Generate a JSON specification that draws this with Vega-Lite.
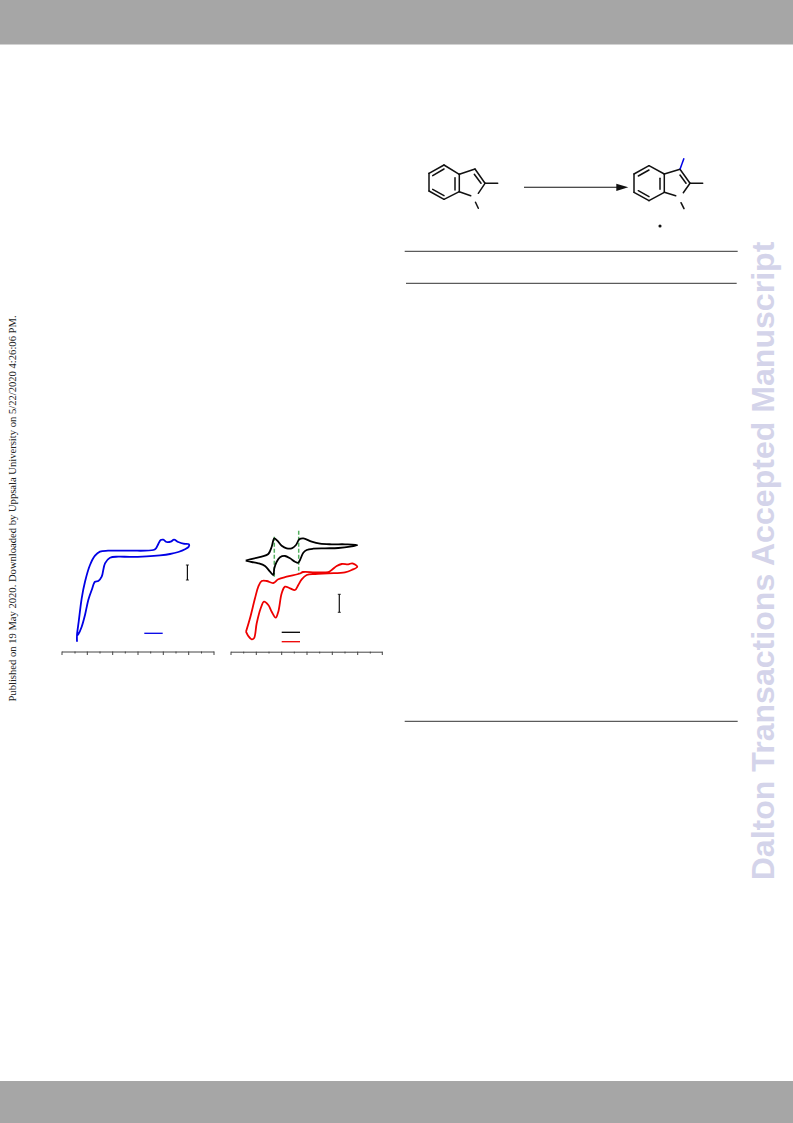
{"$schema":"https://vega.github.io/schema/vega-lite/v6.json","autosize":{"type":"fit","contains":"padding"},"width":793,"height":1123,"padding":0,"background":"white","config":{"view":{"stroke":null}},
"datasets":{
"bands":[{"name":"top","x":0,"x2":793,"y":0,"y2":44.5},{"name":"bottom","x":0,"x2":793,"y":1081,"y2":1123}],
"rules":[{"name":"t1","x":404.7,"x2":737.7,"y":251.3},{"name":"t2","x":406,"x2":736.7,"y":283.3},{"name":"t3","x":404.7,"x2":737.7,"y":721.3}],
"curves":[
{"s":"blue","o":1,"x":77,"y":641.7},{"s":"blue","o":2,"x":77,"y":635},{"s":"blue","o":3,"x":78.7,"y":621.7},{"s":"blue","o":4,"x":81.7,"y":598.3},{"s":"blue","o":5,"x":85,"y":581.7},{"s":"blue","o":6,"x":90,"y":565},{"s":"blue","o":7,"x":95,"y":555.7},{"s":"blue","o":8,"x":100,"y":551.7},{"s":"blue","o":9,"x":108,"y":550.7},{"s":"blue","o":10,"x":130,"y":550.7},{"s":"blue","o":11,"x":153.3,"y":550},{"s":"blue","o":12,"x":156,"y":548.3},{"s":"blue","o":13,"x":158.3,"y":544},{"s":"blue","o":14,"x":160.7,"y":540},{"s":"blue","o":15,"x":163.3,"y":539.7},{"s":"blue","o":16,"x":166.7,"y":542},{"s":"blue","o":17,"x":170.7,"y":541.7},{"s":"blue","o":18,"x":174,"y":539.7},{"s":"blue","o":19,"x":178.3,"y":542},{"s":"blue","o":20,"x":183.3,"y":543.7},{"s":"blue","o":21,"x":189,"y":544.3},{"s":"blue","o":22,"x":188.7,"y":546.7},{"s":"blue","o":23,"x":185,"y":549.3},{"s":"blue","o":24,"x":178.3,"y":552},{"s":"blue","o":25,"x":170,"y":554},{"s":"blue","o":26,"x":160,"y":555.3},{"s":"blue","o":27,"x":146.7,"y":556.3},{"s":"blue","o":28,"x":130,"y":556.9},{"s":"blue","o":29,"x":118.3,"y":556.7},{"s":"blue","o":30,"x":110,"y":557.7},{"s":"blue","o":31,"x":105,"y":563.3},{"s":"blue","o":32,"x":101.7,"y":576.7},{"s":"blue","o":33,"x":98.3,"y":581},{"s":"blue","o":34,"x":95,"y":581.7},{"s":"blue","o":35,"x":91.7,"y":590},{"s":"blue","o":36,"x":88.3,"y":600},{"s":"blue","o":37,"x":85,"y":615},{"s":"blue","o":38,"x":81.7,"y":626.7},{"s":"blue","o":39,"x":78.3,"y":634.3},{"s":"blue","o":40,"x":77,"y":635.7},
{"s":"black","o":1,"x":245.7,"y":560.7},{"s":"black","o":2,"x":253.3,"y":558.7},{"s":"black","o":3,"x":261.7,"y":556.7},{"s":"black","o":4,"x":268.3,"y":554},{"s":"black","o":5,"x":271.7,"y":546.7},{"s":"black","o":6,"x":274.3,"y":538.3},{"s":"black","o":7,"x":277.3,"y":540.7},{"s":"black","o":8,"x":281.7,"y":545.7},{"s":"black","o":9,"x":286.7,"y":548.3},{"s":"black","o":10,"x":291.7,"y":548.3},{"s":"black","o":11,"x":296,"y":545},{"s":"black","o":12,"x":299.3,"y":539.3},{"s":"black","o":13,"x":303.3,"y":538.3},{"s":"black","o":14,"x":311.7,"y":541.7},{"s":"black","o":15,"x":320,"y":543.7},{"s":"black","o":16,"x":331.7,"y":544.3},{"s":"black","o":17,"x":345,"y":544.3},{"s":"black","o":18,"x":357.3,"y":545},{"s":"black","o":19,"x":350,"y":546.7},{"s":"black","o":20,"x":338.3,"y":548},{"s":"black","o":21,"x":325,"y":548.3},{"s":"black","o":22,"x":313.3,"y":548.7},{"s":"black","o":23,"x":306.7,"y":550},{"s":"black","o":24,"x":303.3,"y":552.7},{"s":"black","o":25,"x":300,"y":560},{"s":"black","o":26,"x":298.3,"y":562.7},{"s":"black","o":27,"x":295,"y":561.7},{"s":"black","o":28,"x":290,"y":558.3},{"s":"black","o":29,"x":285,"y":556},{"s":"black","o":30,"x":280,"y":557.3},{"s":"black","o":31,"x":276.7,"y":561.7},{"s":"black","o":32,"x":274.3,"y":568.3},{"s":"black","o":33,"x":273.3,"y":575},{"s":"black","o":34,"x":270,"y":571.7},{"s":"black","o":35,"x":265,"y":566},{"s":"black","o":36,"x":258.3,"y":563.3},{"s":"black","o":37,"x":251.7,"y":562},{"s":"black","o":38,"x":245.7,"y":560.7},
{"s":"red","o":1,"x":246,"y":631.7},{"s":"red","o":2,"x":250,"y":618.3},{"s":"red","o":3,"x":255,"y":598.3},{"s":"red","o":4,"x":258.3,"y":586.7},{"s":"red","o":5,"x":261.7,"y":581},{"s":"red","o":6,"x":266.7,"y":581},{"s":"red","o":7,"x":273.3,"y":583},{"s":"red","o":8,"x":278.3,"y":579.3},{"s":"red","o":9,"x":286.7,"y":576.7},{"s":"red","o":10,"x":300,"y":573.5},{"s":"red","o":11,"x":303,"y":572},{"s":"red","o":12,"x":315,"y":572.3},{"s":"red","o":13,"x":328.3,"y":572},{"s":"red","o":14,"x":331.7,"y":570},{"s":"red","o":15,"x":336.7,"y":566},{"s":"red","o":16,"x":341.7,"y":564},{"s":"red","o":17,"x":348.3,"y":564.3},{"s":"red","o":18,"x":352.3,"y":563.3},{"s":"red","o":19,"x":357.3,"y":566.7},{"s":"red","o":20,"x":351.7,"y":570},{"s":"red","o":21,"x":345,"y":572.3},{"s":"red","o":22,"x":328.3,"y":573.3},{"s":"red","o":23,"x":315,"y":574},{"s":"red","o":24,"x":306.7,"y":575},{"s":"red","o":25,"x":301.7,"y":579.3},{"s":"red","o":26,"x":298.3,"y":585},{"s":"red","o":27,"x":295,"y":590},{"s":"red","o":28,"x":290,"y":588.3},{"s":"red","o":29,"x":285,"y":586.7},{"s":"red","o":30,"x":281.7,"y":593.3},{"s":"red","o":31,"x":278.3,"y":611.7},{"s":"red","o":32,"x":275.7,"y":617.7},{"s":"red","o":33,"x":271.7,"y":611.7},{"s":"red","o":34,"x":268.3,"y":605},{"s":"red","o":35,"x":264,"y":601.7},{"s":"red","o":36,"x":260.7,"y":608.3},{"s":"red","o":37,"x":256.7,"y":623.3},{"s":"red","o":38,"x":254,"y":638.3},{"s":"red","o":39,"x":251.7,"y":639.3},{"s":"red","o":40,"x":248.3,"y":636},{"s":"red","o":41,"x":246,"y":631.7}
],
"legendLines":[{"s":"blue","x":144.3,"x2":162.7,"y":633.3},{"s":"black","x":281.7,"x2":300,"y":632.3},{"s":"red","x":281.7,"x2":300,"y":641.7}],
"scaleBars":[{"x":187.4,"y":565,"y2":580},{"x":339.3,"y":594.3,"y2":612.3}],
"scaleCaps":[{"x":185.9,"x2":188.9,"y":565},{"x":185.9,"x2":188.9,"y":580},{"x":337.8,"x2":340.8,"y":594.3},{"x":337.8,"x2":340.8,"y":612.3}],
"axisLines":[{"x":62,"x2":214.2,"y":652},{"x":231,"x2":382.5,"y":652.2}],
"axisTicks":[{"x":62,"y":651.5,"y2":655},{"x":75,"y":651.5,"y2":653.5},{"x":87.3,"y":651.5,"y2":655},{"x":100,"y":651.5,"y2":653.5},{"x":112.7,"y":651.5,"y2":655},{"x":125.3,"y":651.5,"y2":653.5},{"x":138,"y":651.5,"y2":655},{"x":150.7,"y":651.5,"y2":653.5},{"x":163.3,"y":651.5,"y2":655},{"x":176,"y":651.5,"y2":653.5},{"x":188.7,"y":651.5,"y2":655},{"x":201.5,"y":651.5,"y2":653.5},{"x":214,"y":651.5,"y2":655},
{"x":231,"y":651.7,"y2":655},{"x":243.7,"y":651.7,"y2":653.5},{"x":256.3,"y":651.7,"y2":655},{"x":269,"y":651.7,"y2":653.5},{"x":281.7,"y":651.7,"y2":655},{"x":294.3,"y":651.7,"y2":653.5},{"x":307,"y":651.7,"y2":655},{"x":319.7,"y":651.7,"y2":653.5},{"x":332.3,"y":651.7,"y2":655},{"x":345,"y":651.7,"y2":653.5},{"x":357.7,"y":651.7,"y2":655},{"x":370.3,"y":651.7,"y2":653.5},{"x":382.3,"y":651.7,"y2":655}],
"guides":[{"x":274.3,"y":536.7,"y2":577.5},{"x":298.7,"y":530.7,"y2":574.3}],
"bonds":[
{"x":444,"y":165,"x2":459.3,"y2":174.3},{"x":459.3,"y":174.3,"x2":459.3,"y2":191.7},{"x":459.3,"y":191.7,"x2":444,"y2":199.3},{"x":444,"y":199.3,"x2":429,"y2":191},{"x":429,"y":191,"x2":429,"y2":173.3},{"x":429,"y":173.3,"x2":444,"y2":165},
{"x":455,"y":177.7,"x2":455,"y2":190},{"x":432.7,"y":175.7,"x2":444,"y2":169},{"x":432.7,"y":189.3,"x2":444,"y2":195.7},
{"x":459.3,"y":174.3,"x2":475,"y2":169},{"x":475,"y":169,"x2":485,"y2":183.3},{"x":485,"y":183.3,"x2":478.3,"y2":193.3},{"x":474.3,"y":174.3,"x2":481,"y2":183.3},{"x":459.3,"y":191.7,"x2":470.7,"y2":195.7},{"x":485,"y":183.3,"x2":497.7,"y2":183.3},{"x":475.5,"y":202.3,"x2":478.3,"y2":208.3},
{"x":649,"y":165.7,"x2":664.3,"y2":174},{"x":664.3,"y":174,"x2":664.3,"y2":192.3},{"x":664.3,"y":192.3,"x2":649,"y2":200.7},{"x":649,"y":200.7,"x2":634,"y2":192.3},{"x":634,"y":192.3,"x2":634,"y2":174},{"x":634,"y":174,"x2":649,"y2":165.7},
{"x":660,"y":178.3,"x2":660,"y2":189.3},{"x":638.3,"y":176,"x2":649,"y2":170},{"x":638.3,"y":190.7,"x2":649,"y2":196.7},
{"x":664.3,"y":174,"x2":680,"y2":169.3},{"x":680,"y":169.3,"x2":690,"y2":183.3},{"x":690,"y":183.3,"x2":683.3,"y2":192.7},{"x":680,"y":175,"x2":686,"y2":183.3},{"x":664.3,"y":192.3,"x2":675.7,"y2":195.7},{"x":690,"y":183.3,"x2":702.7,"y2":183.3},{"x":681,"y":202.7,"x2":684,"y2":208.7}],
"arrowLine":[{"x":524,"x2":617,"y":187.3}],
"arrowHead":[{"x":622.3,"y":187.3}],
"blueBond":[{"x":680,"y":169.3,"x2":684,"y2":158.3}],
"dot":[{"x":660,"y":226}],
"watermark":[{"label":"Dalton Transactions Accepted Manuscript","x":764,"y":561}],
"sideNote":[{"label":"Published on 19 May 2020. Downloaded by Uppsala University on 5/22/2020 4:26:06 PM.","x":13,"y":508.5}]
},
"layer":[
{"data":{"name":"bands"},"mark":{"type":"rect","color":"#a6a6a6"},"encoding":{"x":{"field":"x","type":"quantitative","scale":{"domain":[0,793],"nice":false,"zero":false},"axis":null},"x2":{"field":"x2"},"y":{"field":"y","type":"quantitative","scale":{"domain":[1123,0],"nice":false,"zero":false},"axis":null},"y2":{"field":"y2"}}},
{"data":{"name":"watermark"},"mark":{"type":"text","angle":270,"font":"Liberation Sans","fontWeight":"bold","fontSize":32.1,"color":"#d4d4ea","align":"center","baseline":"middle"},"encoding":{"x":{"field":"x","type":"quantitative","axis":null},"y":{"field":"y","type":"quantitative","axis":null},"text":{"field":"label"}}},
{"data":{"name":"sideNote"},"mark":{"type":"text","angle":270,"font":"Liberation Serif","fontSize":10.6,"color":"#222222","align":"center","baseline":"middle"},"encoding":{"x":{"field":"x","type":"quantitative","axis":null},"y":{"field":"y","type":"quantitative","axis":null},"text":{"field":"label"}}},
{"data":{"name":"rules"},"mark":{"type":"rule","color":"#333333","strokeWidth":1},"encoding":{"x":{"field":"x","type":"quantitative"},"x2":{"field":"x2"},"y":{"field":"y","type":"quantitative"}}},
{"data":{"name":"axisLines"},"mark":{"type":"rule","color":"#444444","strokeWidth":1},"encoding":{"x":{"field":"x","type":"quantitative"},"x2":{"field":"x2"},"y":{"field":"y","type":"quantitative"}}},
{"data":{"name":"axisTicks"},"mark":{"type":"rule","color":"#444444","strokeWidth":1},"encoding":{"x":{"field":"x","type":"quantitative"},"y":{"field":"y","type":"quantitative"},"y2":{"field":"y2"}}},
{"data":{"name":"guides"},"mark":{"type":"rule","color":"#55b060","strokeWidth":1.5,"strokeDash":[4,2]},"encoding":{"x":{"field":"x","type":"quantitative"},"y":{"field":"y","type":"quantitative"},"y2":{"field":"y2"}}},
{"data":{"name":"curves"},"mark":{"type":"line","strokeWidth":1.8,"interpolate":"catmull-rom","strokeJoin":"round"},"encoding":{"x":{"field":"x","type":"quantitative"},"y":{"field":"y","type":"quantitative"},"order":{"field":"o","type":"quantitative"},"color":{"field":"s","type":"nominal","legend":null,"scale":{"domain":["blue","black","red"],"range":["#0000e6","#000000","#ee0000"]}}}},
{"data":{"name":"legendLines"},"mark":{"type":"rule","strokeWidth":1.3},"encoding":{"x":{"field":"x","type":"quantitative"},"x2":{"field":"x2"},"y":{"field":"y","type":"quantitative"},"color":{"field":"s","type":"nominal","legend":null}}},
{"data":{"name":"scaleBars"},"mark":{"type":"rule","color":"#111111","strokeWidth":1.2},"encoding":{"x":{"field":"x","type":"quantitative"},"y":{"field":"y","type":"quantitative"},"y2":{"field":"y2"}}},
{"data":{"name":"scaleCaps"},"mark":{"type":"rule","color":"#111111","strokeWidth":0.9},"encoding":{"x":{"field":"x","type":"quantitative"},"x2":{"field":"x2"},"y":{"field":"y","type":"quantitative"}}},
{"data":{"name":"bonds"},"mark":{"type":"rule","color":"#111111","strokeWidth":1.5,"strokeCap":"round"},"encoding":{"x":{"field":"x","type":"quantitative"},"x2":{"field":"x2"},"y":{"field":"y","type":"quantitative"},"y2":{"field":"y2"}}},
{"data":{"name":"blueBond"},"mark":{"type":"rule","color":"#0000e6","strokeWidth":1.5},"encoding":{"x":{"field":"x","type":"quantitative"},"x2":{"field":"x2"},"y":{"field":"y","type":"quantitative"},"y2":{"field":"y2"}}},
{"data":{"name":"arrowLine"},"mark":{"type":"rule","color":"#111111","strokeWidth":1.1},"encoding":{"x":{"field":"x","type":"quantitative"},"x2":{"field":"x2"},"y":{"field":"y","type":"quantitative"}}},
{"data":{"name":"arrowHead"},"mark":{"type":"point","filled":true,"opacity":1,"color":"#111111","size":36,"shape":"M-2,-1.2L2,0L-2,1.2Z"},"encoding":{"x":{"field":"x","type":"quantitative"},"y":{"field":"y","type":"quantitative"}}},
{"data":{"name":"dot"},"mark":{"type":"point","filled":true,"opacity":1,"color":"#111111","size":10,"shape":"circle"},"encoding":{"x":{"field":"x","type":"quantitative"},"y":{"field":"y","type":"quantitative"}}}
]}
